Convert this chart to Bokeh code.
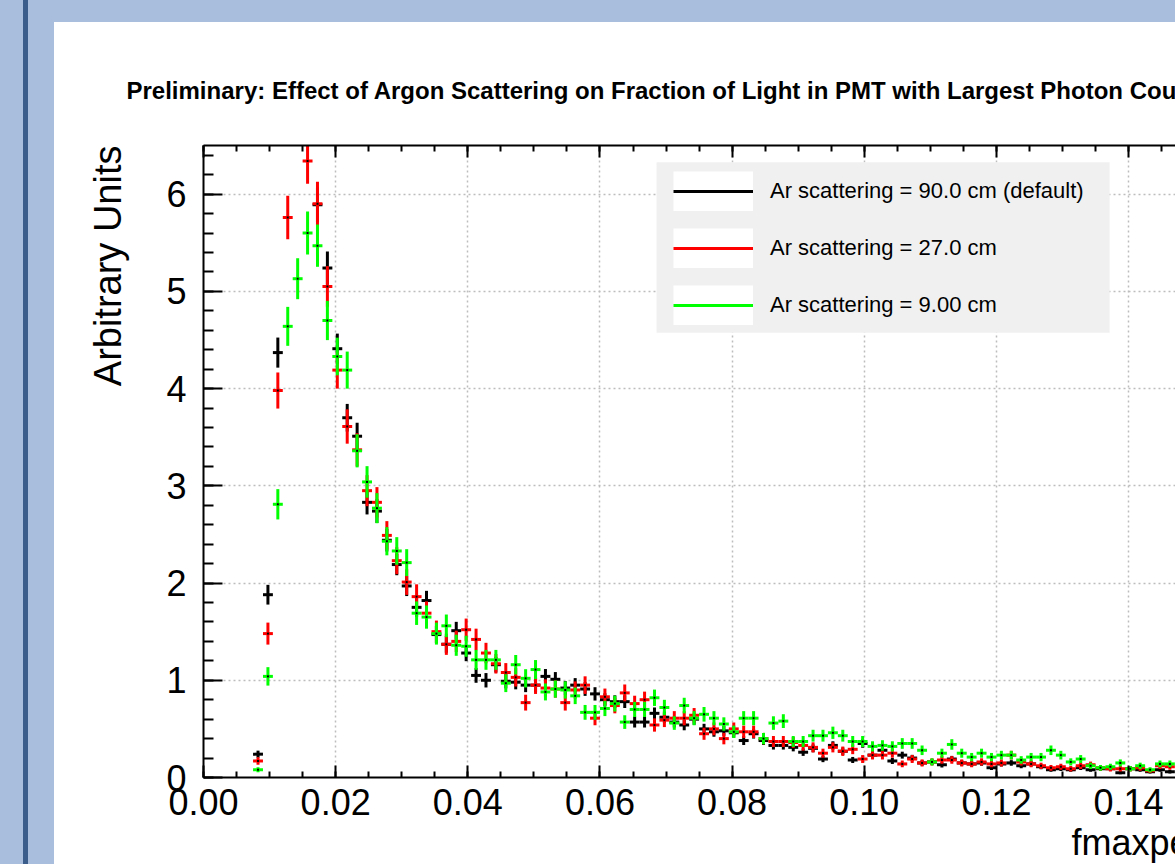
import numpy as np
from bokeh.plotting import figure
from bokeh.models import (ColumnDataSource, LinearAxis, SingleIntervalTicker,
                          NumeralTickFormatter, Range1d, Legend, LegendItem, Title,
                          BoxAnnotation, CustomJSTickFormatter)
from bokeh.embed import file_html
from bokeh.resources import INLINE

# ---------------- data ----------------
BIN_WIDTH = 0.0015          # 100 bins over 0 .. 0.15
FIRST_BIN = 5               # first non-empty bin

series_labels = ["Ar scattering = 90.0 cm (default)",
                 "Ar scattering = 27.0 cm",
                 "Ar scattering = 9.00 cm"]
series_colors = ["#000000", "#ff0000", "#00ff00"]
err_scale = [0.074, 0.093, 0.093]   # statistical error ~ scale*sqrt(content)

black_vals = [0.24, 1.88, 4.37, 6.9, 7.3, 6.9, 5.89, 5.24, 4.41, 3.70,
              3.51, 2.83, 2.74, 2.44, 2.19, 1.97, 1.75, 1.82, 1.47, 1.37,
              1.51, 1.28, 1.05, 1.00, 1.16, 0.99, 0.98, 0.95, 0.95, 1.04,
              1.01, 0.92, 0.95, 0.91, 0.86, 0.80, 0.78, 0.78, 0.57, 0.57,
              0.66, 0.62, 0.57, 0.54, 0.60, 0.50, 0.47, 0.48, 0.46, 0.38,
              0.45, 0.38, 0.33, 0.33, 0.31, 0.26, 0.30, 0.19, 0.33, 0.27,
              0.18, 0.35, 0.23, 0.28, 0.17, 0.23, 0.20, 0.15, 0.16, 0.13,
              0.19, 0.15, 0.14, 0.15, 0.10, 0.14, 0.15, 0.12, 0.14, 0.11,
              0.08, 0.09, 0.08, 0.10, 0.08, 0.09, 0.09, 0.05, 0.09, 0.08,
              0.06, 0.08, 0.06]
red_vals = [0.17, 1.48, 3.98, 5.76, 6.75, 6.34, 5.90, 5.05, 4.19, 3.61,
            3.37, 2.95, 2.83, 2.49, 2.23, 2.01, 1.86, 1.69, 1.50, 1.37,
            1.40, 1.52, 1.42, 1.28, 1.17, 1.08, 1.03, 0.77, 0.95, 0.92,
            0.91, 0.77, 0.90, 0.95, 0.61, 0.83, 0.74, 0.87, 0.76, 0.80,
            0.54, 0.59, 0.61, 0.61, 0.64, 0.45, 0.50, 0.40, 0.50, 0.47,
            0.47, 0.40, 0.37, 0.37, 0.36, 0.33, 0.31, 0.25, 0.31, 0.27,
            0.29, 0.19, 0.23, 0.23, 0.25, 0.14, 0.19, 0.15, 0.16, 0.18,
            0.18, 0.15, 0.14, 0.16, 0.14, 0.15, 0.23, 0.16, 0.14, 0.12,
            0.10, 0.11, 0.09, 0.12, 0.13, 0.10, 0.09, 0.09, 0.09, 0.10,
            0.07, 0.12, 0.11]
green_vals = [0.08, 1.04, 2.81, 4.64, 5.13, 5.60, 5.47, 4.70, 4.33, 4.19,
              3.36, 3.04, 2.77, 2.43, 2.33, 2.21, 1.69, 1.65, 1.48, 1.56,
              1.36, 1.35, 1.21, 1.21, 1.21, 0.97, 1.16, 1.02, 1.11, 0.88,
              0.91, 0.90, 0.84, 0.67, 0.67, 0.71, 0.76, 0.57, 0.70, 0.70,
              0.82, 0.72, 0.56, 0.74, 0.61, 0.65, 0.61, 0.55, 0.47, 0.61,
              0.61, 0.40, 0.56, 0.58, 0.37, 0.37, 0.43, 0.43, 0.46, 0.43,
              0.37, 0.37, 0.32, 0.33, 0.32, 0.35, 0.35, 0.28, 0.16, 0.25,
              0.34, 0.25, 0.21, 0.25, 0.21, 0.23, 0.23, 0.18, 0.21, 0.21,
              0.28, 0.23, 0.16, 0.19, 0.12, 0.10, 0.11, 0.15, 0.09, 0.12,
              0.08, 0.14, 0.14]

x_ticks_interval = 0.02
y_ticks_interval = 1

title_text = ("Preliminary: Effect of Argon Scattering on Fraction of Light "
              "in PMT with Largest Photon Count")
x_title = "fmaxpe"
y_title = "Arbitrary Units"

FONT = "Liberation Sans"

# ---------------- figure ----------------
page_bg = ("linear-gradient(#ffffff, #ffffff) 54px 22px / 1121px 842px no-repeat, "
           "linear-gradient(to right, #a9bddc 0px, #a9bddc 23px, #3b5d8b 23px, "
           "#3b5d8b 28px, #a9bddc 28px, #a9bddc 100%)")

p = figure(width=1175, height=864, x_range=Range1d(0, 0.1471), y_range=Range1d(0, 6.5),
           output_backend="svg", toolbar_location=None,
           min_border_left=203, min_border_right=0, min_border_top=145,
           min_border_bottom=85, background_fill_color="white",
           border_fill_color=None, outline_line_color=None,
           styles={"background": page_bg})

xt = SingleIntervalTicker(interval=x_ticks_interval, num_minor_ticks=4)
yt = SingleIntervalTicker(interval=y_ticks_interval, num_minor_ticks=5)


def style_axis(ax, major_in, minor_in):
    ax.major_tick_in = major_in
    ax.major_tick_out = 0
    ax.minor_tick_in = minor_in
    ax.minor_tick_out = 0
    ax.axis_line_width = 2
    ax.axis_line_color = "black"
    ax.major_tick_line_width = 2
    ax.minor_tick_line_width = 2
    ax.major_tick_line_color = "black"
    ax.minor_tick_line_color = "black"
    ax.major_label_text_font = FONT
    ax.major_label_text_font_size = "36px"
    ax.major_label_text_color = "black"


xa = p.xaxis[0]
xa.ticker = xt
xa.formatter = NumeralTickFormatter(format="0.00")
style_axis(xa, 12, 6)
xa.major_label_standoff = 11

ya = p.yaxis[0]
ya.ticker = yt
style_axis(ya, 19, 10)
ya.major_label_standoff = 17

top = LinearAxis(ticker=xt, formatter=CustomJSTickFormatter(code="return ''"))
style_axis(top, 12, 6)
top.major_label_standoff = 0
p.add_layout(top, "above")

for g, t in ((p.xgrid[0], xt), (p.ygrid[0], yt)):
    g.ticker = t
    g.grid_line_color = "#bdbdbd"
    g.grid_line_dash = "2 3"
    g.grid_line_width = 1.5

# ---------------- legend background ----------------
p.add_layout(BoxAnnotation(left=0.06856, right=0.13713, top=6.328, bottom=4.574,
                           fill_color="#f0f0f0", fill_alpha=1.0, line_color=None,
                           level="underlay"))

# ---------------- data glyphs ----------------
legend_items = []
for vals, col, k, lab in zip([black_vals, red_vals, green_vals], series_colors,
                             err_scale, series_labels):
    v = np.array(vals)
    c = (np.arange(FIRST_BIN, FIRST_BIN + len(v)) + 0.5) * BIN_WIDTH
    e = k * np.sqrt(v)
    src = ColumnDataSource(dict(x=c, y=v, xl=c - BIN_WIDTH / 2, xr=c + BIN_WIDTH / 2,
                                yl=v - e, yh=v + e))
    back = p.segment(x0=[np.nan], y0=[np.nan], x1=[np.nan], y1=[np.nan],
                     line_color="white", line_width=40)
    hbar = p.segment(x0="xl", y0="y", x1="xr", y1="y", source=src,
                     line_color=col, line_width=3)
    p.segment(x0="x", y0="yl", x1="x", y1="yh", source=src,
              line_color=col, line_width=3)
    p.scatter(x="x", y="y", source=src, marker="square", size=2,
              fill_color="black", line_color=None)
    legend_items.append(LegendItem(label=lab, renderers=[back, hbar]))

legend = Legend(items=legend_items, location=(470, 452),
                glyph_width=80, glyph_height=40, spacing=17, padding=0,
                label_standoff=17, label_height=40,
                label_text_font=FONT, label_text_font_size="22px",
                label_text_color="black",
                background_fill_alpha=0.0, border_line_color=None, margin=0)
p.add_layout(legend, "center")

# ---------------- texts ----------------
p.title.text = title_text
p.title.align = "left"
p.title.offset = -77
p.title.standoff = 83
p.title.text_font = FONT
p.title.text_font_size = "24px"
p.title.text_font_style = "bold"
p.title.text_color = "black"

p.add_layout(Title(text=y_title, align="right", standoff=70, text_font=FONT,
                   text_font_size="38px", text_font_style="normal",
                   text_color="black"), "left")
p.add_layout(Title(text=x_title, align="left", offset=868, standoff=4,
                   text_font=FONT, text_font_size="36px",
                   text_font_style="normal", text_color="black"), "below")

open("out.html", "w").write(file_html(p, INLINE))
